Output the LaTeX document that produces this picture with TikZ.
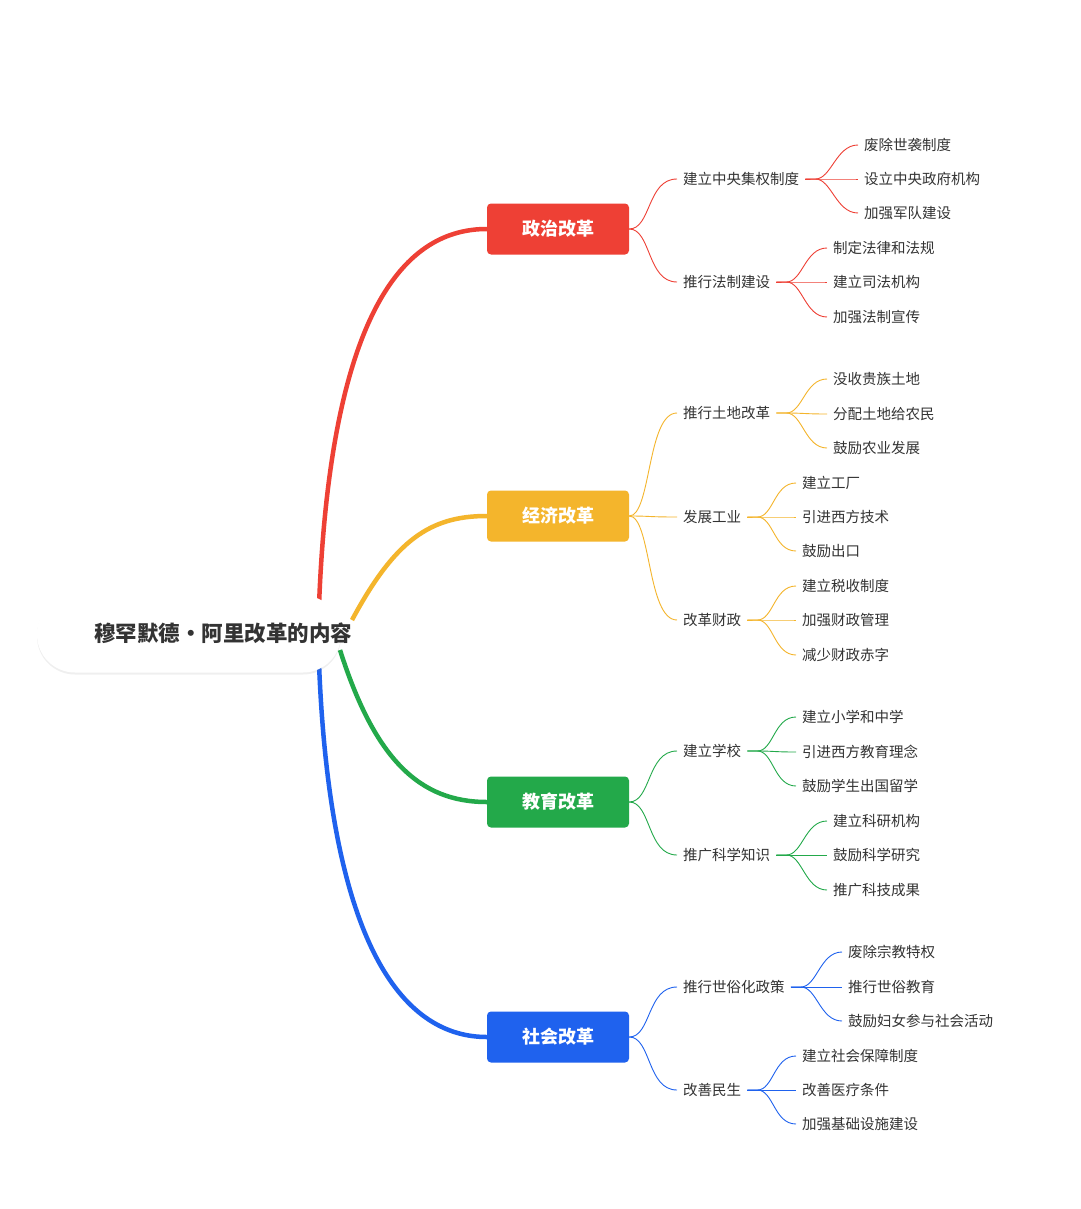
\documentclass[tikz,border=0pt]{standalone}
\usepackage{fontspec}
\setmainfont{Noto Sans CJK SC}
\usetikzlibrary{shadows}
\definecolor{cr}{HTML}{EE4035}
\definecolor{cy}{HTML}{F4B52C}
\definecolor{cg}{HTML}{23A94A}
\definecolor{cb}{HTML}{1F62EE}
\definecolor{tx}{HTML}{333333}
\tikzset{
 lt/.style={anchor=west,inner sep=0pt,text=tx,font=\fontsize{14.5}{16}\selectfont},
 box/.style={rounded corners=4pt,minimum width=142pt,minimum height=51pt,inner sep=0pt,text=white,font=\fontsize{18}{20}\selectfont\bfseries},
 main/.style={line width=4.5pt},
 thinl/.style={line width=0.9pt}
}
\newcommand\lvtwo[5]{%
 \node[lt] (#1) at (683,#3) {#4};
 \draw[#5,thinl] (#2.east) .. controls +(22,0) and +(-30,0) .. ([xshift=-6pt]#1.west);}
\newcommand\lvthree[6]{%
 \node[lt] (#1) at (#3,#4) {#5};
 \draw[#6,thinl] ([xshift=6pt]#2.east) -- ++(10,0) .. controls +(16,0) and +(-22,0) .. ([xshift=-6pt]#1.west);}
\begin{document}
\begin{tikzpicture}[x=1pt,y=-1pt]
\useasboundingbox[fill=white] (0,0) rectangle (1080,1209);
% main boxes
\node[box,fill=cr] (pol) at (558,229) {政治改革};
\node[box,fill=cy] (eco) at (558,516) {经济改革};
\node[box,fill=cg] (edu) at (558,802) {教育改革};
\node[box,fill=cb] (soc) at (558,1037) {社会改革};
\coordinate (r1) at (318,640);
\coordinate (r2) at (352,620);
\coordinate (r3) at (340,650);
\coordinate (r4) at (318,630);
\draw[main,cr] (r1) .. controls (325,300) and (410,229) .. (pol.west);
\draw[main,cy] (r2) .. controls (395,540) and (430,516) .. (eco.west);
\draw[main,cg] (r3) .. controls (375,760) and (420,802) .. (edu.west);
\draw[main,cb] (r4) .. controls (325,960) and (410,1037) .. (soc.west);
% root
\node[fill=white,rounded corners=38pt,minimum width=304pt,minimum height=77pt,drop shadow={opacity=0.12,shadow xshift=0pt,shadow yshift=-2pt}] (rootbox) at (189,634) {};
\node[text=tx,font=\fontsize{21.5}{24}\selectfont\bfseries,inner sep=0pt] (root) at (223,633) {穆罕默德·阿里改革的内容};
% red
\lvtwo{a1}{pol}{179}{建立中央集权制度}{cr}
\lvthree{a11}{a1}{864}{145}{废除世袭制度}{cr}
\lvthree{a12}{a1}{864}{179}{设立中央政府机构}{cr}
\lvthree{a13}{a1}{864}{213}{加强军队建设}{cr}
\lvtwo{a2}{pol}{282}{推行法制建设}{cr}
\lvthree{a21}{a2}{833}{248}{制定法律和法规}{cr}
\lvthree{a22}{a2}{833}{282}{建立司法机构}{cr}
\lvthree{a23}{a2}{833}{317}{加强法制宣传}{cr}
% yellow
\lvtwo{b1}{eco}{413}{推行土地改革}{cy}
\lvthree{b11}{b1}{833}{379}{没收贵族土地}{cy}
\lvthree{b12}{b1}{833}{414}{分配土地给农民}{cy}
\lvthree{b13}{b1}{833}{448}{鼓励农业发展}{cy}
\lvtwo{b2}{eco}{517}{发展工业}{cy}
\lvthree{b21}{b2}{802}{483}{建立工厂}{cy}
\lvthree{b22}{b2}{802}{517}{引进西方技术}{cy}
\lvthree{b23}{b2}{802}{551}{鼓励出口}{cy}
\lvtwo{b3}{eco}{620}{改革财政}{cy}
\lvthree{b31}{b3}{802}{586}{建立税收制度}{cy}
\lvthree{b32}{b3}{802}{620}{加强财政管理}{cy}
\lvthree{b33}{b3}{802}{655}{减少财政赤字}{cy}
% green
\lvtwo{c1}{edu}{751}{建立学校}{cg}
\lvthree{c11}{c1}{802}{717}{建立小学和中学}{cg}
\lvthree{c12}{c1}{802}{752}{引进西方教育理念}{cg}
\lvthree{c13}{c1}{802}{786}{鼓励学生出国留学}{cg}
\lvtwo{c2}{edu}{855}{推广科学知识}{cg}
\lvthree{c21}{c2}{833}{821}{建立科研机构}{cg}
\lvthree{c22}{c2}{833}{855}{鼓励科学研究}{cg}
\lvthree{c23}{c2}{833}{890}{推广科技成果}{cg}
% blue
\lvtwo{d1}{soc}{987}{推行世俗化政策}{cb}
\lvthree{d11}{d1}{848}{952}{废除宗教特权}{cb}
\lvthree{d12}{d1}{848}{987}{推行世俗教育}{cb}
\lvthree{d13}{d1}{848}{1021}{鼓励妇女参与社会活动}{cb}
\lvtwo{d2}{soc}{1090}{改善民生}{cb}
\lvthree{d21}{d2}{802}{1056}{建立社会保障制度}{cb}
\lvthree{d22}{d2}{802}{1090}{改善医疗条件}{cb}
\lvthree{d23}{d2}{802}{1124}{加强基础设施建设}{cb}
\end{tikzpicture}
\end{document}
